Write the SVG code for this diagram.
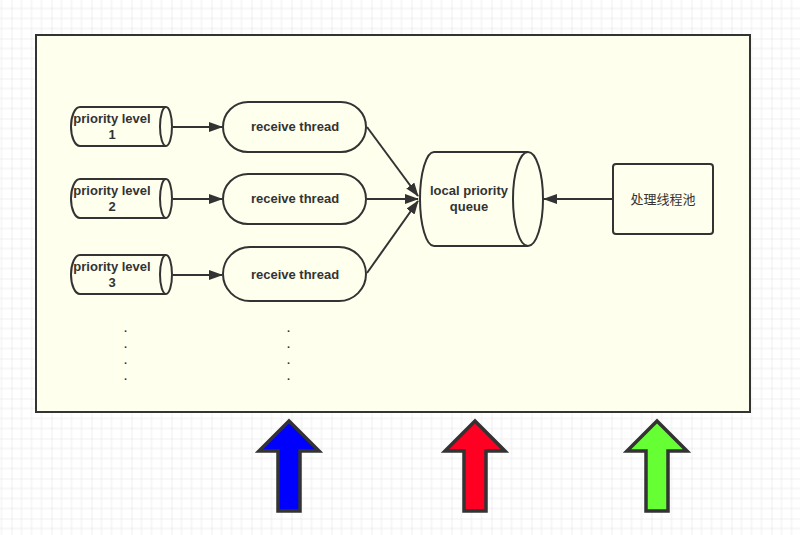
<svg xmlns="http://www.w3.org/2000/svg" width="800" height="535" viewBox="0 0 800 535">
<defs>
<pattern id="grid" patternUnits="userSpaceOnUse" x="11.5" y="-1.5" width="40" height="40">
<path d="M10 0V40M20 0V40M30 0V40M0 10H40M0 20H40M0 30H40" stroke="#eeeeee" stroke-width="1" fill="none"/>
<path d="M0 0V40M0 0H40" stroke="#e2e2e2" stroke-width="1.2" fill="none"/>
</pattern>
<marker id="ah" viewBox="0 0 14 10" refX="13" refY="5" markerWidth="14" markerHeight="10" markerUnits="userSpaceOnUse" orient="auto">
<path d="M0 0L14 5L0 10Z" fill="#333"/>
</marker>
<style>
.s{stroke:#333;stroke-width:2;fill:#ffffee}
.t{font-family:"Liberation Sans",Arial,sans-serif;font-size:13px;font-weight:bold;fill:#333;text-anchor:middle}
.d{font-family:"Liberation Sans",Arial,sans-serif;font-size:11px;font-weight:bold;fill:#333;text-anchor:middle}
.c{font-family:"Liberation Sans","Noto Sans CJK SC",sans-serif;font-size:13px;fill:#333;text-anchor:middle}
.ln{stroke:#333;stroke-width:2;fill:none;marker-end:url(#ah)}
.big{stroke:#333;stroke-width:3.5;stroke-linejoin:miter}
</style>
</defs>
<rect width="800" height="535" fill="#ffffff"/>
<rect width="800" height="535" fill="url(#grid)"/>
<rect x="36" y="35" width="714" height="377" fill="#ffffee" stroke="#333" stroke-width="2"/>

<g id="p1">
<path class="s" d="M166 107H80A9 19.5 0 0 0 80 146H166"/>
<ellipse class="s" cx="166" cy="126.5" rx="6" ry="19.5"/>
<text class="t" x="112" y="123">priority level</text>
<text class="t" x="112" y="139">1</text>
</g>
<g id="p2">
<path class="s" d="M166 179H80A9 19.5 0 0 0 80 218H166"/>
<ellipse class="s" cx="166" cy="198.5" rx="6" ry="19.5"/>
<text class="t" x="112" y="195">priority level</text>
<text class="t" x="112" y="211">2</text>
</g>
<g id="p3">
<path class="s" d="M166 255H80A9 19.5 0 0 0 80 294H166"/>
<ellipse class="s" cx="166" cy="274.5" rx="6" ry="19.5"/>
<text class="t" x="112" y="271">priority level</text>
<text class="t" x="112" y="287">3</text>
</g>

<g id="r1"><rect class="s" x="223" y="102" width="143" height="50" rx="25"/><text class="t" x="295" y="131">receive thread</text></g>
<g id="r2"><rect class="s" x="223" y="174" width="143" height="50" rx="25"/><text class="t" x="295" y="203">receive thread</text></g>
<g id="r3"><rect class="s" x="223" y="247" width="143" height="54" rx="27"/><text class="t" x="295" y="279">receive thread</text></g>

<g id="queue">
<path class="s" d="M528 152H434A14 47 0 0 0 434 246H528"/>
<ellipse class="s" cx="528" cy="199" rx="15" ry="47"/>
<text class="t" x="469" y="195">local priority</text>
<text class="t" x="469" y="211">queue</text>
</g>

<g id="pool">
<rect class="s" x="613" y="164" width="100" height="70" rx="3"/>
<text class="c" x="663" y="204">处理线程池</text>
</g>

<g id="dots1">
<text class="d" x="125.5" y="332">.</text>
<text class="d" x="125.5" y="348">.</text>
<text class="d" x="125.5" y="364">.</text>
<text class="d" x="125.5" y="380">.</text>
</g>
<g id="dots2">
<text class="d" x="288.5" y="332">.</text>
<text class="d" x="288.5" y="348">.</text>
<text class="d" x="288.5" y="364">.</text>
<text class="d" x="288.5" y="380">.</text>
</g>

<g id="connectors">
<line class="ln" x1="173" y1="127" x2="222" y2="127"/>
<line class="ln" x1="173" y1="199" x2="222" y2="199"/>
<line class="ln" x1="173" y1="275" x2="222" y2="275"/>
<line class="ln" x1="367" y1="127" x2="418" y2="196"/>
<line class="ln" x1="367" y1="199" x2="418" y2="199"/>
<line class="ln" x1="367" y1="273" x2="418" y2="201"/>
<line class="ln" x1="613" y1="199" x2="544" y2="199"/>
</g>

<g id="arrow-blue"><path class="big" fill="#0000ff" d="M289 421L319 451H300V511H278V451H259Z"/></g>
<g id="arrow-red"><path class="big" fill="#ff0022" d="M475 421L505 451H486V511H464V451H445Z"/></g>
<g id="arrow-green"><path class="big" fill="#66ff33" d="M657 421L687 451H668V511H646V451H627Z"/></g>
</svg>
